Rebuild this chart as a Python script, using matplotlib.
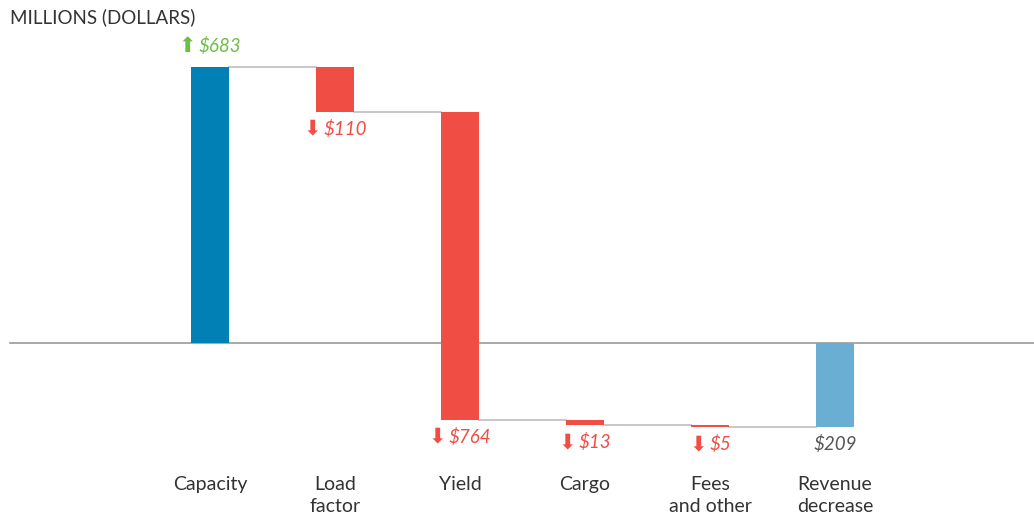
import matplotlib
matplotlib.use("Agg")
import matplotlib.pyplot as plt
from matplotlib.offsetbox import TextArea, HPacker, AnnotationBbox

categories = ["Capacity", "Load\nfactor", "Yield", "Cargo", "Fees\nand other", "Revenue\ndecrease"]
changes = [683, -110, -764, -13, -5]
total = -209
value_labels = ["$683", "$110", "$764", "$13", "$5", "$209"]

BLUE = "#0080B4"
RED = "#F04D45"
LIGHT = "#6BAED4"
GREEN = "#6DBE45"
GRAYTXT = "#555555"

fig = plt.figure(figsize=(10.34, 5.17), dpi=100)
ax = fig.add_axes([0, 0, 1, 1])
ax.set_xlim(-1.68, 6.592)
ax.set_ylim(-432, 850)
ax.axis("off")

W = 0.304
FONT = ["Lato", "DejaVu Sans"]

# baseline
ax.plot([-1.6, 6.6], [0, 0], color="#9a9a9a", lw=1.2, zorder=1)

ends = []
start = 0
for i, d in enumerate(changes):
    end = start + d
    if i == 0:
        color = BLUE
    else:
        color = GREEN if d > 0 else RED
    ax.bar(i, end - start, bottom=start, width=W, color=color, zorder=2)
    ends.append((start, end))
    start = end
ti = len(changes)
ax.bar(ti, total, bottom=0, width=W, color=LIGHT, zorder=2)

# connectors
levels = [e for s, e in ends]
for i, lv in enumerate(levels):
    ax.plot([i + W / 2, i + 1 - W / 2], [lv, lv], color="#bdbdbd", lw=1.2, zorder=1)

def label(x, y, dy, arrow, txt, color):
    children = []
    if arrow:
        children.append(TextArea(arrow, textprops=dict(color=color, fontsize=15,
                                                        family="DejaVu Sans")))
    children.append(TextArea(txt, textprops=dict(color=color, fontsize=13.5,
                                                 family=FONT, style="italic")))
    box = HPacker(children=children, sep=2, align="center", pad=0)
    ab = AnnotationBbox(box, (x, y), xybox=(0, dy), boxcoords="offset pixels",
                        frameon=False, box_alignment=(0.5, 0.5), pad=0)
    ax.add_artist(ab)

for i, d in enumerate(changes):
    s, e = ends[i]
    if d > 0:
        label(i, max(s, e), 21, "\u2B06", value_labels[i], GREEN)
    else:
        label(i, min(s, e), -17, "\u2B07", value_labels[i], RED)
label(ti, total, -17, None, value_labels[ti], GRAYTXT)

for i, c in enumerate(categories):
    ax.annotate(c, (i, 517 - 476), xycoords=("data", "figure pixels"),
                ha="center", va="top", fontsize=14, family=FONT,
                color="#333333", linespacing=1.38)

fig.text(10 / 1034, 1 - 17 / 517, "MILLIONS (DOLLARS)", fontsize=13.5, family=FONT,
         color="#333333", ha="left", va="center")

fig.savefig("out.png", dpi=100)
